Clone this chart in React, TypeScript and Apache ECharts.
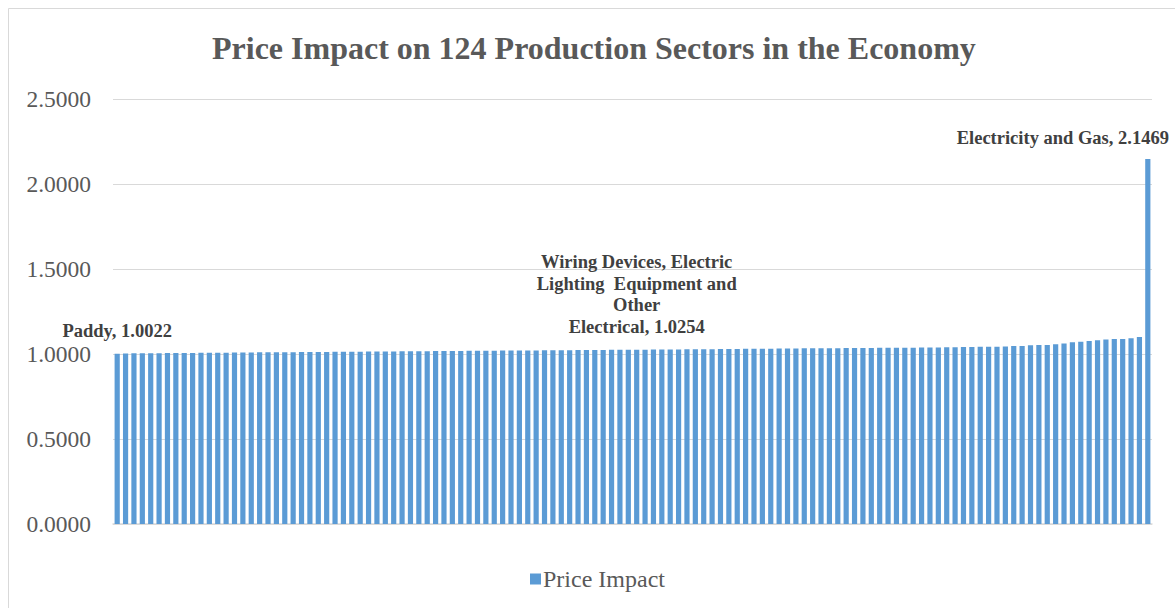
import React, { useEffect, useRef } from "react";
import * as echarts from "echarts";

const TITLE = "Price Impact on 124 Production Sectors in the Economy";
const SERIES_NAME = "Price Impact";
const Y_TICKS = [0, 0.5, 1.0, 1.5, 2.0, 2.5];

const values: number[] = [
  1.0022, 1.0031, 1.0038, 1.0042, 1.0047, 1.0051, 1.0055, 1.0058, 1.0061, 1.0064,
  1.0067, 1.007, 1.0074, 1.0079, 1.0083, 1.0088, 1.0092, 1.0096, 1.0099, 1.0103,
  1.0106, 1.011, 1.0113, 1.0117, 1.0121, 1.0125, 1.0128, 1.0131, 1.0135, 1.0139,
  1.0142, 1.0146, 1.0149, 1.0153, 1.0156, 1.016, 1.0164, 1.0167, 1.0171, 1.0175,
  1.0179, 1.0183, 1.0186, 1.0189, 1.0193, 1.0196, 1.0199, 1.0203, 1.0206, 1.021,
  1.0213, 1.0217, 1.022, 1.0224, 1.0227, 1.0231, 1.0235, 1.0238, 1.0242, 1.0245,
  1.0248, 1.0251, 1.0254, 1.0257, 1.0261, 1.0264, 1.0268, 1.0271, 1.0275, 1.0279,
  1.0283, 1.0286, 1.029, 1.0294, 1.0298, 1.0302, 1.0306, 1.0311, 1.0315, 1.0319,
  1.0323, 1.0327, 1.0331, 1.0334, 1.0338, 1.0342, 1.0345, 1.0349, 1.0352, 1.0356,
  1.0359, 1.0362, 1.0366, 1.0369, 1.0372, 1.0375, 1.0378, 1.0381, 1.0385,
  1.039, 1.0392, 1.0405, 1.0418, 1.0422, 1.0426, 1.043, 1.0434, 1.0465, 1.0472,
  1.0508, 1.0528, 1.0535, 1.057, 1.0612, 1.0688, 1.0721, 1.0762, 1.0803, 1.0858,
  1.0876, 1.0884, 1.0921, 1.0998,
  2.1469,
];

const namedSectors: { index: number; name: string; text: string }[] = [
  { index: 0, name: "Paddy", text: "Paddy, 1.0022" },
  {
    index: 62,
    name: "Wiring Devices, Electric Lighting Equipment and Other Electrical",
    text: "Wiring Devices, Electric\nLighting  Equipment and\nOther\nElectrical, 1.0254",
  },
  { index: 123, name: "Electricity and Gas", text: "Electricity and Gas, 2.1469" },
];

const categories: string[] = values.map((_, i) => {
  const n = namedSectors.find((s) => s.index === i);
  return n ? n.name : `Sector ${i + 1}`;
});

const SERIF = "Liberation Serif, Times New Roman, serif";
const TEXT = "#595959";
const GRID = "#d9d9d9";
const BAR = "#5b9bd5";

const labelOffsets: Record<number, [number, number]> = {
  0: [0, -7],
  62: [0, -7],
  123: [-85, -5],
};

export default function App() {
  const ref = useRef<HTMLDivElement>(null);
  useEffect(() => {
    if (!ref.current) return;
    const chart = echarts.init(ref.current, null, { renderer: "svg" });
    const data = values.map((v, i) => {
      const n = namedSectors.find((s) => s.index === i);
      if (!n) return v;
      return {
        value: v,
        label: {
          show: true,
          position: "top",
          offset: labelOffsets[i],
          formatter: n.text,
          fontFamily: SERIF,
          fontWeight: "bold",
          fontSize: 18.5,
          lineHeight: 21.5,
          color: "#404040",
          align: "center",
        },
      };
    });
    chart.setOption({
      animation: false,
      backgroundColor: "#ffffff",
      graphic: [
        {
          type: "rect",
          shape: { x: 8.5, y: 8.5, width: 1300, height: 800 },
          style: { fill: "none", stroke: GRID, lineWidth: 1 },
          silent: true,
        },
      ],
      title: {
        text: TITLE,
        left: 207,
        top: 27,
        textStyle: {
          fontFamily: SERIF,
          fontWeight: "bold",
          fontSize: 32,
          color: TEXT,
        },
      },
      legend: {
        data: [SERIES_NAME],
        top: 562,
        left: 525,
        itemWidth: 11,
        itemHeight: 11,
        itemGap: 4,
        icon: "rect",
        textStyle: { fontFamily: SERIF, fontSize: 24, color: TEXT, padding: [0, 0, 0, -3] },
      },
      grid: { left: 113, right: 23, top: 99, bottom: 84, containLabel: false },
      xAxis: {
        type: "category",
        data: categories,
        axisLine: { lineStyle: { color: GRID, width: 1.5 } },
        axisTick: { show: false },
        axisLabel: { show: false },
      },
      yAxis: {
        type: "value",
        min: Y_TICKS[0],
        max: Y_TICKS[Y_TICKS.length - 1],
        interval: 0.5,
        axisLine: { show: false },
        axisTick: { show: false },
        splitLine: { lineStyle: { color: GRID, width: 1 } },
        axisLabel: {
          formatter: (v: number) => v.toFixed(4),
          fontFamily: SERIF,
          fontSize: 23.5,
          color: TEXT,
          margin: 22,
        },
      },
      series: [
        {
          name: SERIES_NAME,
          type: "bar",
          data,
          itemStyle: { color: BAR },
          barCategoryGap: "38%",
        },
      ],
    });
    return () => chart.dispose();
  }, []);
  return (
    <div
      ref={ref}
      style={{ position: "fixed", left: 0, top: 0, width: 1175, height: 608, background: "#fff" }}
    />
  );
}
